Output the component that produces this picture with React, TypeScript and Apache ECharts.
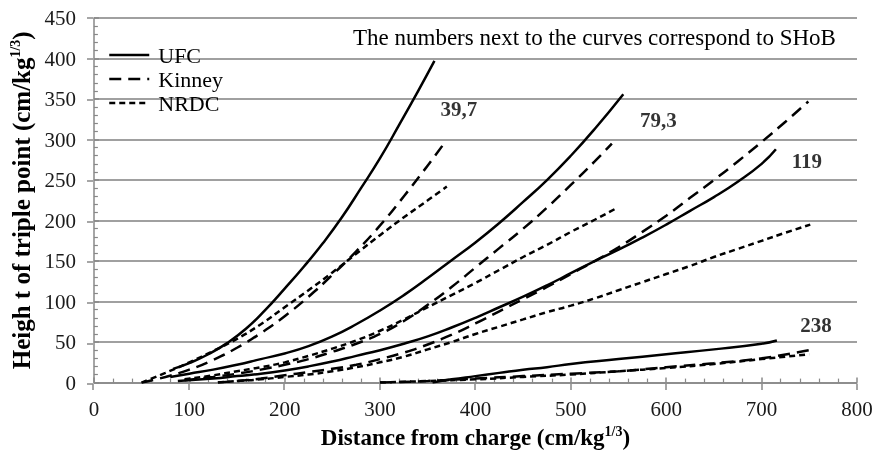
import React, { useEffect, useRef } from "react";
import * as echarts from "echarts";

// ---- Data (x: cm/kg^1/3, y: cm/kg^1/3) ----
// SHoB 39,7
const ufc397 = [[83,17],[100,24],[120,35],[140,49],[160,67],[180,90],[200,116],[220,143],[240,172],[260,204],[280,240],[300,277],[320,318],[340,360],[357,397]];
const kinney397 = [[50,0],[75,7],[100,16],[125,28],[150,43],[175,61],[200,82],[225,106],[250,133],[275,162],[300,194],[325,230],[350,268],[367,295]];
const nrdc397 = [[50,0],[75,12],[100,25],[125,39],[150,54],[175,72],[200,93],[225,114],[250,136],[275,159],[300,182],[325,204],[350,225],[370,242]];
// SHoB 79,3
const ufc793 = [[80,7],[100,11],[125,16],[150,22],[175,29],[200,36],[225,45],[250,57],[275,72],[300,89],[325,108],[350,129],[375,151],[400,173],[425,197],[450,223],[475,250],[500,280],[525,313],[555,356]];
const kinney793 = [[95,3],[125,7],[150,11],[175,16],[200,22],[225,29],[250,38],[275,48],[300,60],[325,76],[350,96],[375,118],[400,142],[425,166],[450,190],[475,216],[500,244],[525,273],[543,295]];
const nrdc793 = [[95,4],[125,9],[150,14],[175,19],[200,25],[225,33],[250,42],[275,52],[300,64],[325,78],[350,93],[375,108],[400,123],[425,139],[450,155],[475,170],[500,186],[525,201],[549,216]];
// SHoB 119
const ufc119 = [[88,2],[125,5],[150,8],[175,11],[200,15],[225,20],[250,26],[275,33],[300,40],[325,48],[350,57],[375,68],[400,80],[425,93],[450,106],[475,120],[500,135],[525,150],[550,164],[575,179],[600,195],[625,212],[650,229],[675,248],[700,270],[715,288]];
const kinney119 = [[130,0],[150,2],[175,5],[200,9],[225,13],[250,17],[275,22],[300,29],[325,37],[350,47],[375,59],[400,73],[425,88],[450,103],[475,118],[500,134],[525,150],[550,167],[575,186],[600,206],[625,228],[650,250],[675,273],[700,297],[725,322],[749,347]];
const nrdc119 = [[130,0],[150,2],[175,4],[200,7],[225,10],[250,14],[275,19],[300,25],[325,32],[350,41],[375,50],[400,60],[425,69],[450,78],[475,87],[500,95],[525,104],[550,114],[575,124],[600,134],[625,144],[650,155],[675,165],[700,175],[725,185],[751,195]];
// SHoB 238
const ufc238 = [[355,0],[375,4],[400,8],[425,12],[450,16],[475,19],[500,23],[550,29],[600,35],[650,41],[700,48],[716,52]];
const kinney238 = [[300,0],[350,2],[400,5],[450,8],[500,11],[550,14],[600,19],[650,24],[700,30],[750,40]];
const nrdc238 = [[300,0],[350,2],[400,4],[450,7],[500,10],[550,14],[600,18],[650,23],[700,29],[750,35]];

const shobLabels = ["39,7", "79,3", "119", "238"];
const shobLabelPos = [[364,337],[573,323],[732,273],[741,71]];

const legendNames = ["UFC", "Kinney", "NRDC"];
const note = "The numbers next to the curves correspond to SHoB";

const FONT = '"Liberation Serif", "Times New Roman", serif';

export default function App() {
  const ref = useRef<HTMLDivElement>(null);

  useEffect(() => {
    if (!ref.current) return;
    const chart = echarts.init(ref.current, null, { renderer: "svg" });

    const mk = (name: string, data: number[][], dash: any) => ({
      type: "line",
      name,
      data,
      symbol: "none",
      smooth: 0.5,
      lineStyle: { color: "#000", width: 2.5, type: dash },
      itemStyle: { color: "#000" },
      silent: true,
      z: 3,
    });
    const groups = [
      [ufc397, kinney397, nrdc397],
      [ufc793, kinney793, nrdc793],
      [ufc119, kinney119, nrdc119],
      [ufc238, kinney238, nrdc238],
    ];
    const dashes: any[] = ["solid", [12, 7], [6, 4]];
    const series: any[] = [];
    groups.forEach((g) => {
      g.forEach((d, i) => series.push(mk(legendNames[i], d, dashes[i])));
    });
    series.push({
      type: "scatter",
      name: "labels",
      data: shobLabelPos.map((p, i) => ({ value: p, name: shobLabels[i] })),
      symbolSize: 1,
      itemStyle: { color: "transparent" },
      silent: true,
      label: {
        show: true,
        formatter: "{b}",
        position: [0, 0],
        align: "left",
        verticalAlign: "middle",
        fontFamily: FONT,
        fontWeight: "bold",
        fontSize: 21,
        color: "#000",
      },
    });
    // invisible anchor series on the second (outside-tick) grid
    series.push({
      type: "scatter",
      name: "tickAnchor",
      xAxisIndex: 1,
      yAxisIndex: 1,
      data: [[0, 0]],
      symbolSize: 0,
      itemStyle: { color: "transparent" },
      silent: true,
    });

    const tickLabel = { fontFamily: FONT, fontSize: 21, color: "#1a1a1a" };
    const richName = (size: number) => ({
      a: { fontFamily: FONT, fontSize: size, fontWeight: "bold", color: "#000", lineHeight: 26 },
      s: { fontFamily: FONT, fontSize: 14, fontWeight: "bold", color: "#000", lineHeight: 14, verticalAlign: "top" },
    });
    const tickColor = "#888";
    const gridRect = { left: 93, right: 20, top: 18, bottom: 70, containLabel: false };

    chart.setOption({
      animation: false,
      grid: [gridRect, { ...gridRect }],
      legend: {
        data: legendNames,
        orient: "vertical",
        left: 108,
        top: 44,
        padding: 0,
        itemWidth: 40,
        itemHeight: 14,
        itemGap: 2,
        itemStyle: { opacity: 0 },
        lineStyle: { width: 2.5 },
        textStyle: { fontFamily: FONT, fontSize: 22, color: "#000", padding: [0, 0, 0, 4] },
      },
      graphic: [
        {
          type: "text",
          left: 353,
          top: 26,
          style: { text: note, font: `23px ${FONT}`, fill: "#000" },
        },
      ],
      xAxis: [
        {
          type: "value",
          gridIndex: 0,
          min: 0,
          max: 800,
          interval: 100,
          position: "bottom",
          name: "{a|Distance from charge (cm/kg}{s|1/3}{a|)}",
          nameLocation: "middle",
          nameGap: 38,
          nameTextStyle: { rich: richName(23) },
          axisLine: { show: true, onZero: false, lineStyle: { color: tickColor, width: 1.5 } },
          axisTick: { show: true, inside: true, length: 5, lineStyle: { color: tickColor, width: 1.5 } },
          minorTick: { show: true, splitNumber: 5, length: 4, lineStyle: { color: tickColor, width: 1.2 } },
          axisLabel: { ...tickLabel, margin: 16 },
          splitLine: { show: false },
        },
        {
          type: "value",
          gridIndex: 1,
          min: 0,
          max: 800,
          interval: 100,
          position: "bottom",
          axisLine: { show: false, onZero: false },
          axisTick: { show: true, inside: false, length: 6, lineStyle: { color: tickColor, width: 1.5 } },
          axisLabel: { show: false },
          splitLine: { show: false },
        },
      ],
      yAxis: [
        {
          type: "value",
          gridIndex: 0,
          min: 0,
          max: 450,
          interval: 50,
          position: "left",
          name: "{a|Heigh t of triple point (cm/kg}{s|1/3}{a|)}",
          nameLocation: "middle",
          nameGap: 54,
          nameTextStyle: { rich: richName(25) },
          axisLine: { show: true, onZero: false, lineStyle: { color: tickColor, width: 1.5 } },
          axisTick: { show: true, inside: true, length: 5, lineStyle: { color: tickColor, width: 1.5 } },
          minorTick: { show: true, splitNumber: 5, length: 4, lineStyle: { color: tickColor, width: 1.2 } },
          axisLabel: { ...tickLabel, margin: 18 },
          splitLine: { show: true, lineStyle: { color: "#a0a0a0", width: 2 } },
        },
        {
          type: "value",
          gridIndex: 1,
          min: 0,
          max: 450,
          interval: 50,
          position: "left",
          axisLine: { show: false, onZero: false },
          axisTick: { show: true, inside: false, length: 6, lineStyle: { color: tickColor, width: 1.5 } },
          axisLabel: { show: false },
          splitLine: { show: false },
        },
      ],
      series,
    });

    return () => chart.dispose();
  }, []);

  return (
    <div
      ref={ref}
      style={{ position: "fixed", left: 0, top: 0, width: 877, height: 454 }}
    />
  );
}
